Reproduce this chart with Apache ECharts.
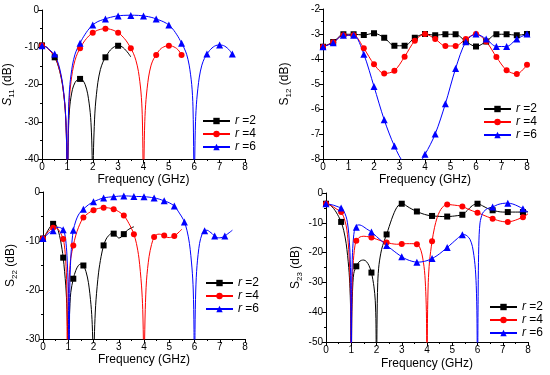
<!DOCTYPE html>
<html><head><meta charset="utf-8">
<script src="https://cdn.jsdelivr.net/npm/echarts@6/dist/echarts.min.js"></script>
<style>html,body{margin:0;padding:0;background:#fff}#c{width:550px;height:375px}</style>
</head><body><div id="c"></div>
<script>
// ---------- DATA ----------
var seriesNames = ['r=2', 'r=4', 'r=6'];
var xTicks = [0, 1, 2, 3, 4, 5, 6, 7, 8];
var yLabels = ['11', '12', '22', '23'];

// S11
var s11_r2_line = [[0,-9.5],[0.1,-9.7],[0.2,-10.1],[0.3,-10.8],[0.4,-11.6],[0.5,-12.7],[0.6,-14.2],[0.7,-16.5],[0.8,-19.8],[0.9,-25.5],[0.95,-31.5],[0.98,-40],[1.0,-60],[1.02,-40],[1.05,-31],[1.1,-25.5],[1.2,-21.3],[1.3,-19.5],[1.4,-18.7],[1.5,-18.5],[1.6,-18.8],[1.7,-20.0],[1.8,-22.5],[1.9,-27.5],[1.95,-33],[1.98,-41],[2.0,-60],[2.02,-41],[2.05,-33],[2.1,-26],[2.2,-19.5],[2.3,-16],[2.4,-14],[2.5,-12.7],[2.6,-11.6],[2.7,-10.7],[2.8,-10.1],[2.9,-9.7],[3.0,-9.6],[3.1,-9.7],[3.2,-10.1],[3.3,-10.8],[3.4,-11.6],[3.5,-12.6]];
var s11_r2_pts = [[0,-9.5],[0.5,-12.7],[1.5,-18.5],[2.5,-12.7],[3,-9.6]];
var s11_r4_line = [[0,-9.5],[0.1,-9.7],[0.2,-10.1],[0.3,-10.8],[0.4,-11.6],[0.5,-12.5],[0.6,-14],[0.7,-16.3],[0.8,-19.6],[0.9,-25.5],[0.95,-31.5],[0.98,-40],[1.0,-60],[1.02,-40],[1.05,-28],[1.1,-22],[1.2,-16.5],[1.3,-13.5],[1.4,-11.6],[1.5,-10.3],[1.6,-9.1],[1.7,-8.1],[1.8,-7.3],[1.9,-6.6],[2.0,-6.1],[2.2,-5.4],[2.4,-5.05],[2.5,-5.0],[2.6,-5.05],[2.8,-5.4],[3.0,-6.1],[3.1,-6.6],[3.2,-7.3],[3.3,-8.1],[3.4,-9.1],[3.5,-10.3],[3.6,-11.6],[3.7,-13.5],[3.8,-16.5],[3.9,-22],[3.95,-28],[3.98,-40],[4.0,-60],[4.02,-40],[4.05,-30],[4.1,-24],[4.2,-18],[4.3,-14.8],[4.4,-13.1],[4.5,-12.1],[4.6,-11.0],[4.7,-10.3],[4.8,-9.9],[4.9,-9.65],[5.0,-9.6],[5.1,-9.65],[5.2,-9.9],[5.3,-10.3],[5.4,-11.0],[5.5,-12.1]];
var s11_r4_pts = [[0,-9.5],[1.5,-10.3],[2,-6.1],[2.5,-5],[3,-6.1],[3.5,-10.3],[4.5,-12.1],[5,-9.6],[5.5,-12.1]];
var s11_r6_line = [[0,-9.5],[0.1,-9.7],[0.2,-10.1],[0.3,-10.7],[0.4,-11.3],[0.5,-12],[0.6,-13.5],[0.7,-15.8],[0.8,-19.2],[0.9,-25],[0.95,-31],[0.98,-40],[1.0,-60],[1.02,-40],[1.05,-26],[1.1,-20],[1.2,-14.8],[1.3,-11.9],[1.4,-10.2],[1.5,-8.9],[1.6,-7.6],[1.7,-6.5],[1.8,-5.5],[1.9,-4.7],[2.0,-4.0],[2.2,-3.1],[2.4,-2.6],[2.5,-2.35],[2.6,-2.15],[2.8,-1.8],[3.0,-1.55],[3.2,-1.45],[3.5,-1.4],[3.8,-1.45],[4.0,-1.6],[4.2,-1.8],[4.4,-2.15],[4.5,-2.4],[4.6,-2.65],[4.8,-3.2],[5.0,-4.0],[5.1,-4.7],[5.2,-5.5],[5.3,-6.5],[5.4,-7.6],[5.5,-8.9],[5.6,-10.2],[5.7,-11.9],[5.8,-14.8],[5.9,-20],[5.95,-26],[5.98,-40],[6.0,-60],[6.02,-40],[6.05,-30],[6.1,-24],[6.2,-18],[6.3,-14.8],[6.4,-13.0],[6.5,-11.9],[6.6,-10.9],[6.7,-10.2],[6.8,-9.7],[6.9,-9.45],[7.0,-9.4],[7.1,-9.45],[7.2,-9.7],[7.3,-10.2],[7.4,-10.9],[7.5,-11.9]];
var s11_r6_pts = [[0,-9.6],[0.5,-11.8],[1.5,-8.9],[2,-4],[2.5,-2.4],[3,-1.6],[3.5,-1.45],[4,-1.6],[4.5,-2.4],[5,-4],[5.5,-8.9],[6.5,-11.8],[7,-9.4],[7.5,-11.8]];

// S12
var s12_r2_pts = [[0,-3.51],[0.4,-3.32],[0.8,-3.01],[1.2,-3.01],[1.6,-3.04],[2.0,-2.97],[2.4,-3.15],[2.8,-3.47],[3.2,-3.47],[3.6,-3.15],[4.0,-3.0],[4.4,-3.05],[4.8,-3.01],[5.2,-3.01],[5.6,-3.3],[6.0,-3.5],[6.4,-3.3],[6.8,-3.01],[7.2,-3.01],[7.6,-3.05],[8.0,-3.0]];
var s12_r4_pts = [[0,-3.51],[0.4,-3.33],[0.8,-3.05],[1.2,-3.05],[1.6,-3.57],[2.0,-4.21],[2.4,-4.58],[2.8,-4.47],[3.2,-3.91],[3.6,-3.27],[4.0,-3.0],[4.4,-3.2],[4.8,-3.48],[5.2,-3.48],[5.6,-3.2],[6.0,-3.0],[6.4,-3.3],[6.8,-3.92],[7.2,-4.45],[7.6,-4.6],[8.0,-4.23]];
var s12_r6_pts = [[0,-3.51],[0.4,-3.35],[0.8,-3.05],[1.2,-3.05],[1.6,-3.81],[2.0,-5.1],[2.4,-6.43],[2.8,-7.48],[3.2,-8.2],[3.6,-8.35],[4.0,-7.81],[4.4,-7.0],[4.8,-5.79],[5.2,-4.38],[5.6,-3.31],[6.0,-3.0],[6.4,-3.2],[6.8,-3.5],[7.2,-3.5],[7.6,-3.2],[8.0,-3.0]];

// S22
var s22_r2_line = [[0,-9.5],[0.1,-8.7],[0.2,-7.8],[0.3,-7.0],[0.4,-6.5],[0.5,-6.6],[0.6,-7.8],[0.7,-10.0],[0.8,-13.4],[0.9,-19],[0.95,-24],[0.98,-31],[1.0,-50],[1.02,-31],[1.05,-25],[1.1,-20.5],[1.2,-17.7],[1.3,-16],[1.4,-15],[1.5,-14.7],[1.6,-15.0],[1.7,-16.2],[1.8,-18.5],[1.9,-23],[1.95,-27],[1.98,-33],[2.0,-50],[2.02,-33],[2.05,-27],[2.1,-22],[2.2,-16.5],[2.3,-13.2],[2.4,-10.9],[2.5,-9.6],[2.6,-8.9],[2.7,-8.5],[2.8,-8.5],[2.9,-8.9],[3.0,-9.4],[3.1,-9.2],[3.2,-8.6],[3.3,-8.0],[3.4,-7.6],[3.5,-7.3],[3.6,-7.1]];
var s22_r2_pts = [[0,-9.5],[0.4,-6.5],[0.8,-13.4],[1.2,-17.7],[1.6,-15.0],[2.4,-10.9],[2.8,-8.5],[3.2,-8.6]];
var s22_r4_line = [[0,-9.5],[0.1,-8.8],[0.2,-8.1],[0.3,-7.6],[0.4,-7.3],[0.5,-7.3],[0.6,-7.6],[0.7,-8.4],[0.8,-9.6],[0.85,-11],[0.9,-14],[0.94,-19],[0.97,-45],[1.0,-22],[1.05,-16.5],[1.1,-13.5],[1.2,-10.9],[1.3,-8.8],[1.4,-7.3],[1.5,-6.1],[1.6,-5.2],[1.8,-4.3],[2.0,-3.7],[2.2,-3.35],[2.4,-3.2],[2.6,-3.25],[2.8,-3.5],[3.0,-4.0],[3.2,-4.8],[3.3,-5.5],[3.4,-6.4],[3.5,-7.4],[3.6,-8.6],[3.7,-10.5],[3.8,-13.5],[3.9,-19],[3.95,-24],[3.98,-32],[4.0,-50],[4.02,-32],[4.05,-24],[4.1,-18],[4.2,-13.2],[4.3,-10.7],[4.4,-9.2],[4.5,-8.7],[4.6,-8.6],[4.7,-8.7],[4.8,-8.9],[4.9,-9.2],[5.0,-9.3],[5.1,-9.2],[5.2,-9.0],[5.3,-8.6],[5.4,-8.1],[5.5,-7.6]];
var s22_r4_pts = [[0,-9.5],[0.4,-7.3],[0.8,-9.6],[1.2,-10.9],[1.6,-5.2],[2.0,-3.7],[2.4,-3.2],[2.8,-3.5],[3.2,-4.8],[3.6,-8.6],[4.4,-9.2],[4.8,-8.9],[5.2,-9.0]];
var s22_r6_line = [[0,-9.5],[0.1,-9.0],[0.2,-8.5],[0.3,-8.1],[0.4,-7.9],[0.5,-7.4],[0.6,-7.2],[0.7,-7.3],[0.8,-7.7],[0.85,-8.3],[0.9,-9.8],[0.95,-13],[1.0,-20],[1.03,-45],[1.06,-20],[1.1,-13.5],[1.15,-10],[1.2,-7.8],[1.3,-5.9],[1.4,-4.7],[1.5,-4.0],[1.6,-3.5],[1.8,-2.6],[2.0,-2.0],[2.2,-1.55],[2.4,-1.2],[2.6,-1.05],[2.8,-0.95],[3.0,-0.85],[3.2,-0.8],[3.4,-0.82],[3.6,-0.9],[3.8,-0.92],[4.0,-0.95],[4.2,-1.05],[4.4,-1.2],[4.6,-1.45],[4.8,-1.8],[5.0,-2.2],[5.2,-2.85],[5.3,-3.5],[5.4,-4.3],[5.5,-5.1],[5.6,-6.1],[5.7,-7.8],[5.8,-10.5],[5.9,-15.5],[5.95,-20],[5.98,-28],[6.0,-50],[6.02,-28],[6.05,-20],[6.1,-15],[6.2,-10.5],[6.3,-8.6],[6.4,-7.9],[6.5,-7.8],[6.6,-8.1],[6.7,-8.5],[6.8,-9.0],[6.9,-9.3],[7.0,-9.35],[7.1,-9.25],[7.2,-9.0],[7.3,-8.6],[7.4,-8.2],[7.5,-7.8]];
var s22_r6_pts = [[0,-9.5],[0.4,-7.9],[0.8,-7.7],[1.2,-7.8],[1.6,-3.5],[2.0,-2.0],[2.4,-1.2],[2.8,-0.95],[3.2,-0.8],[3.6,-0.9],[4.0,-0.95],[4.4,-1.2],[4.8,-1.8],[5.2,-2.85],[5.6,-6.1],[6.4,-7.9],[6.8,-9.0],[7.2,-9.0]];

// S23
var s23_r2_line = [[0,-3.6],[0.1,-3.8],[0.2,-4.3],[0.3,-5.2],[0.4,-6.4],[0.5,-7.9],[0.6,-9.7],[0.7,-12.5],[0.8,-17],[0.9,-25],[0.95,-32],[0.98,-42],[1.0,-70],[1.02,-42],[1.05,-33],[1.1,-27],[1.2,-24.6],[1.3,-23.2],[1.4,-22.6],[1.5,-22.5],[1.6,-23.0],[1.7,-24.3],[1.8,-26.7],[1.9,-31.5],[1.95,-36],[1.98,-44],[2.0,-70],[2.02,-44],[2.05,-30],[2.1,-24],[2.2,-19],[2.3,-16.2],[2.4,-13.9],[2.5,-11.3],[2.6,-8.8],[2.7,-6.6],[2.8,-4.9],[2.9,-3.9],[3.0,-3.6],[3.1,-3.8],[3.2,-4.4],[3.4,-5.4],[3.6,-6.2],[3.8,-6.9],[4.0,-7.4],[4.2,-7.7],[4.4,-7.8],[4.6,-7.9],[4.8,-7.9],[5.0,-7.8],[5.2,-7.6],[5.4,-7.3],[5.6,-5.8],[5.8,-4.2],[6.0,-3.6],[6.2,-4.3],[6.4,-5.2],[6.6,-5.8],[6.8,-6.2],[7.0,-6.4],[7.2,-6.4],[7.4,-6.4],[7.6,-6.4],[7.8,-6.4],[8.0,-6.3]];
var s23_r2_pts = [[0,-3.6],[0.6,-9.7],[1.2,-24.6],[1.8,-26.7],[2.4,-13.9],[3.0,-3.6],[3.6,-6.2],[4.2,-7.7],[4.8,-7.9],[5.4,-7.3],[6.0,-3.6],[6.6,-5.8],[7.2,-6.4],[7.8,-6.4]];
var s23_r4_line = [[0,-3.6],[0.1,-3.8],[0.2,-4.2],[0.3,-4.7],[0.4,-5.3],[0.5,-5.8],[0.6,-6.4],[0.7,-8],[0.8,-11],[0.85,-14],[0.9,-19],[0.95,-28],[0.98,-40],[1.0,-70],[1.02,-40],[1.05,-28],[1.1,-21],[1.15,-17.5],[1.2,-16.0],[1.3,-15.0],[1.4,-14.6],[1.5,-14.5],[1.6,-14.6],[1.7,-14.7],[1.8,-14.9],[2.0,-15.5],[2.2,-16.1],[2.4,-16.6],[2.6,-17.0],[2.8,-17.2],[3.0,-17.1],[3.2,-17.0],[3.4,-17.0],[3.6,-17.2],[3.7,-18],[3.8,-20.5],[3.9,-26],[3.95,-33],[3.98,-42],[4.0,-70],[4.02,-42],[4.05,-30],[4.1,-23],[4.2,-16.2],[4.3,-11.5],[4.4,-8.3],[4.5,-6.2],[4.6,-4.9],[4.7,-4.2],[4.8,-3.9],[4.9,-3.9],[5.0,-4.0],[5.2,-4.2],[5.4,-4.5],[5.6,-5.3],[5.8,-6.0],[6.0,-6.6],[6.2,-7.3],[6.4,-8.0],[6.6,-8.6],[6.8,-9.2],[7.0,-9.6],[7.2,-9.7],[7.4,-9.4],[7.6,-8.8],[7.8,-8.1],[8.0,-7.0]];
var s23_r4_pts = [[0,-3.6],[0.6,-6.4],[1.2,-16.0],[1.8,-14.9],[2.4,-16.6],[3.0,-17.1],[3.6,-17.2],[4.2,-16.2],[4.8,-3.9],[5.4,-4.5],[6.0,-6.6],[6.6,-8.6],[7.2,-9.7],[7.8,-8.1]];
var s23_r6_line = [[0,-3.6],[0.1,-3.7],[0.2,-3.9],[0.3,-4.1],[0.4,-4.4],[0.5,-4.7],[0.6,-5.0],[0.7,-6.0],[0.8,-8.0],[0.85,-10],[0.9,-13.5],[0.95,-20],[0.98,-30],[1.0,-70],[1.02,-30],[1.05,-20],[1.1,-14],[1.15,-11.8],[1.2,-11.0],[1.3,-10.7],[1.4,-10.9],[1.5,-11.4],[1.6,-12.0],[1.8,-13.1],[2.0,-14.6],[2.2,-16.1],[2.4,-17.6],[2.6,-18.9],[2.8,-20.2],[3.0,-21.4],[3.2,-22.3],[3.4,-22.9],[3.6,-23.2],[3.8,-23.1],[4.0,-22.7],[4.2,-22.0],[4.4,-21.0],[4.6,-19.7],[4.8,-18.3],[5.0,-16.8],[5.2,-15.3],[5.4,-14.0],[5.5,-14.0],[5.6,-14.5],[5.7,-15.5],[5.8,-18],[5.9,-24],[5.95,-31],[5.98,-42],[6.0,-70],[6.02,-40],[6.05,-18],[6.1,-10],[6.2,-6.8],[6.3,-5.8],[6.4,-5.2],[6.6,-4.7],[6.8,-3.9],[7.0,-3.5],[7.2,-3.4],[7.4,-3.7],[7.6,-4.4],[7.8,-5.3],[8.0,-6.4]];
var s23_r6_pts = [[0,-3.6],[0.6,-5.0],[1.2,-11.5],[1.8,-13.1],[2.4,-17.6],[3.0,-21.4],[3.6,-23.2],[4.2,-22.0],[4.8,-18.3],[5.4,-14.0],[6.6,-4.7],[7.2,-3.4],[7.8,-5.3]];

var yRanges = [[-40, 0, 10], [-8, -2, 1], [-30, 0, 10], [-50, 0, 10]];

// ---------- STYLE ----------
var colors = ['#000000', '#ff0000', '#0000ff'];
var symbols = ['rect', 'circle', 'triangle'];
var symSizes = [6, 6, 7];
var FONT = 'Liberation Sans, Arial, sans-serif';
var grids = [
  {left: 42, top: 10, width: 203, height: 149},
  {left: 323, top: 9, width: 204, height: 150},
  {left: 43, top: 192, width: 202, height: 147},
  {left: 326, top: 193, width: 202, height: 149}
];
var yNameGaps = [26, 30, 24, 22];
var xNameGaps = [15, 15, 15, 16];
var legendPos = [{left: 197, top: 110}, {left: 478, top: 98}, {left: 200, top: 272}, {left: 484, top: 296}];
var italicS = [true, false, false, false];

var panels = [
  [[s11_r2_line, s11_r2_pts], [s11_r4_line, s11_r4_pts], [s11_r6_line, s11_r6_pts]],
  [[s12_r2_pts, s12_r2_pts], [s12_r4_pts, s12_r4_pts], [s12_r6_pts, s12_r6_pts]],
  [[s22_r2_line, s22_r2_pts], [s22_r4_line, s22_r4_pts], [s22_r6_line, s22_r6_pts]],
  [[s23_r2_line, s23_r2_pts], [s23_r4_line, s23_r4_pts], [s23_r6_line, s23_r6_pts]]
];

var xAxes = [], yAxes = [], series = [], legends = [];
panels.forEach(function (p, i) {
  xAxes.push({
    gridIndex: i, type: 'value', min: xTicks[0], max: xTicks[xTicks.length - 1], interval: 1,
    name: 'Frequency (GHz)', nameLocation: 'middle', nameGap: xNameGaps[i],
    nameTextStyle: {fontFamily: FONT, fontSize: 12, color: '#000'},
    axisLine: {show: true, onZero: false, lineStyle: {color: '#000', width: 1}},
    axisTick: {show: true, inside: false, length: 4, lineStyle: {color: '#000'}},
    minorTick: {show: true, splitNumber: 2, length: 2, lineStyle: {color: '#000'}},
    splitLine: {show: false},
    axisLabel: {fontFamily: FONT, fontSize: 10, color: '#000', margin: 3}
  });
  var r = yRanges[i];
  yAxes.push({
    gridIndex: i, type: 'value', min: r[0], max: r[1], interval: r[2],
    name: '{s|S}{sub|' + yLabels[i] + '}{t| (dB)}', nameLocation: 'middle', nameGap: yNameGaps[i],
    nameTextStyle: {fontFamily: FONT, color: '#000', rich: {
      s: {fontFamily: FONT, fontSize: 12, fontStyle: italicS[i] ? 'italic' : 'normal', lineHeight: 16, color: '#000'},
      sub: {fontFamily: FONT, fontSize: 8, lineHeight: 8, verticalAlign: 'bottom', color: '#000'},
      t: {fontFamily: FONT, fontSize: 12, lineHeight: 16, color: '#000'}
    }},
    axisLine: {show: true, onZero: false, lineStyle: {color: '#000', width: 1}},
    axisTick: {show: true, inside: false, length: 4, lineStyle: {color: '#000'}},
    minorTick: {show: true, splitNumber: 2, length: 2, lineStyle: {color: '#000'}},
    splitLine: {show: false},
    axisLabel: {fontFamily: FONT, fontSize: 10, color: '#000', margin: 3}
  });
  p.forEach(function (pair, k) {
    series.push({
      type: 'line', name: seriesNames[k], xAxisIndex: i, yAxisIndex: i,
      data: pair[0], smooth: 0.3, showSymbol: false, symbol: symbols[k], symbolSize: symSizes[k],
      clip: true, lineStyle: {color: colors[k], width: 1}, itemStyle: {color: colors[k]},
      animation: false, z: 2 + k
    });
  });
  p.forEach(function (pair, k) {
    series.push({
      type: 'scatter', name: seriesNames[k], xAxisIndex: i, yAxisIndex: i,
      data: pair[1], symbol: symbols[k], symbolSize: symSizes[k], clip: true,
      itemStyle: {color: colors[k], opacity: 1}, animation: false, z: 5 + k
    });
  });
  legends.push({
    data: seriesNames.slice(), orient: 'vertical', left: legendPos[i].left, top: legendPos[i].top,
    itemWidth: 27, itemHeight: 8, itemGap: 1, selectedMode: false,
    formatter: function (n) { return '{i|r} =' + n.split('=')[1]; },
    textStyle: {fontFamily: FONT, fontSize: 12, color: '#000', rich: {
      i: {fontFamily: FONT, fontSize: 12, fontStyle: 'italic', color: '#000'}
    }}
  });
});

var chart = echarts.init(document.getElementById('c'), null, {renderer: 'canvas'});
chart.setOption({
  animation: false,
  backgroundColor: '#fff',
  grid: grids,
  xAxis: xAxes,
  yAxis: yAxes,
  legend: legends,
  series: series
});
</script></body></html>
